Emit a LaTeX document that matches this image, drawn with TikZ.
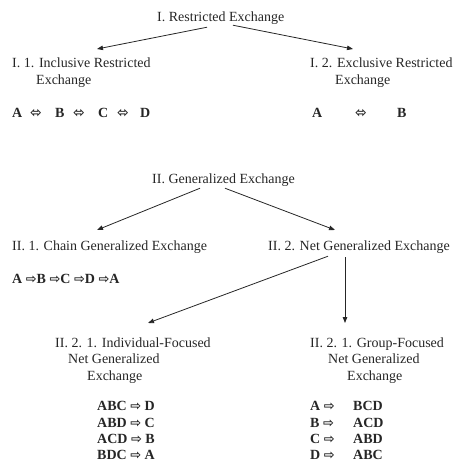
\documentclass[tikz,border=0pt]{standalone}
\usepackage{fontspec}
\setmainfont{Liberation Serif}
\newfontfamily\symfont{DejaVu Sans}
\usetikzlibrary{arrows.meta,calc}
\newcommand{\rarr}{{\symfont\fontsize{13}{14}\selectfont ⇨}}
\newcommand{\lrarr}{{\symfont\fontsize{14}{14}\selectfont ⬄}}
\begin{document}
\begin{tikzpicture}[x=1pt,y=-1pt,
  lbl/.style={anchor=base west,inner sep=0pt,font=\fontsize{14}{16}\selectfont,text=black!85},
  rowtxt/.style={anchor=base west,inner sep=0pt,font=\fontsize{14}{16}\selectfont\bfseries,text=black!85},
  arr/.style={draw=black!85,line width=0.8pt,-{Triangle[length=6pt,width=4.5pt]}}]
\useasboundingbox (0,0) rectangle (456,462);
% Part I
\node[lbl] (t1) at (157,22) {I. Restricted Exchange};
\node[lbl] (i1a) at (12,68) {I. 1. Inclusive Restricted};
\node[lbl] (i1b) at (36,85) {Exchange};
\node[lbl] (i2a) at (310,68) {I. 2. Exclusive Restricted};
\node[lbl] (i2b) at (335,85) {Exchange};
\node[rowtxt] (r1) at (12,118) {\makebox[18pt][l]{A}\makebox[25pt][l]{\lrarr}\makebox[18pt][l]{B}\makebox[25pt][l]{\lrarr}\makebox[19pt][l]{C}\makebox[23pt][l]{\lrarr}D};
\node[rowtxt] (r2) at (312,118) {\makebox[43pt][l]{A}\makebox[42pt][l]{\lrarr}B};
\coordinate (e11) at (97,49);
\coordinate (e12) at (353,49);
\draw[arr] ($(t1.south west)+(50,2)$) -- (e11);
\draw[arr] ($(t1.south west)+(76,0)$) -- (e12);
% Part II
\node[lbl] (t2) at (152,183) {II. Generalized Exchange};
\node[lbl] (ii1) at (12,250) {II. 1. Chain Generalized Exchange};
\node[lbl] (ii2) at (268,250) {II. 2. Net Generalized Exchange};
\node[rowtxt] (r3) at (12,283) {A \rarr B \rarr C \rarr D \rarr A};
\coordinate (e21) at (97,230);
\coordinate (e22) at (335,230);
\draw[arr] ($(t2.south west)+(48,2)$) -- (e21);
\draw[arr] ($(t2.south west)+(73,2)$) -- (e22);
% II.2.x
\node[lbl] (g1a) at (55,347) {II. 2. 1. Individual-Focused};
\node[lbl] (g1b) at (68,363) {Net Generalized};
\node[lbl] (g1c) at (87,380) {Exchange};
\node[lbl] (g2a) at (310,347) {II. 2. 1. Group-Focused};
\node[lbl] (g2b) at (328,363) {Net Generalized};
\node[lbl] (g2c) at (347,380) {Exchange};
\coordinate (e31) at (148,323);
\coordinate (e32) at (345,323);
\draw[arr] ($(ii2.south west)+(60,3)$) -- (e31);
\draw[arr] ($(ii2.south west)+(77,4)$) -- (e32);
\node[rowtxt] (l1) at (97,410.5) {ABC \rarr{} D};
\node[rowtxt] (l2) at (97,427) {ABD \rarr{} C};
\node[rowtxt] (l3) at (97,443.5) {ACD \rarr{} B};
\node[rowtxt] (l4) at (97,459) {BDC \rarr{} A};
\node[rowtxt] (m1) at (310,410.5) {\makebox[43pt][l]{A \rarr}BCD};
\node[rowtxt] (m2) at (310,427) {\makebox[43pt][l]{B \rarr}ACD};
\node[rowtxt] (m3) at (310,443.5) {\makebox[43pt][l]{C \rarr}ABD};
\node[rowtxt] (m4) at (310,459) {\makebox[43pt][l]{D \rarr}ABC};
\end{tikzpicture}
\end{document}
